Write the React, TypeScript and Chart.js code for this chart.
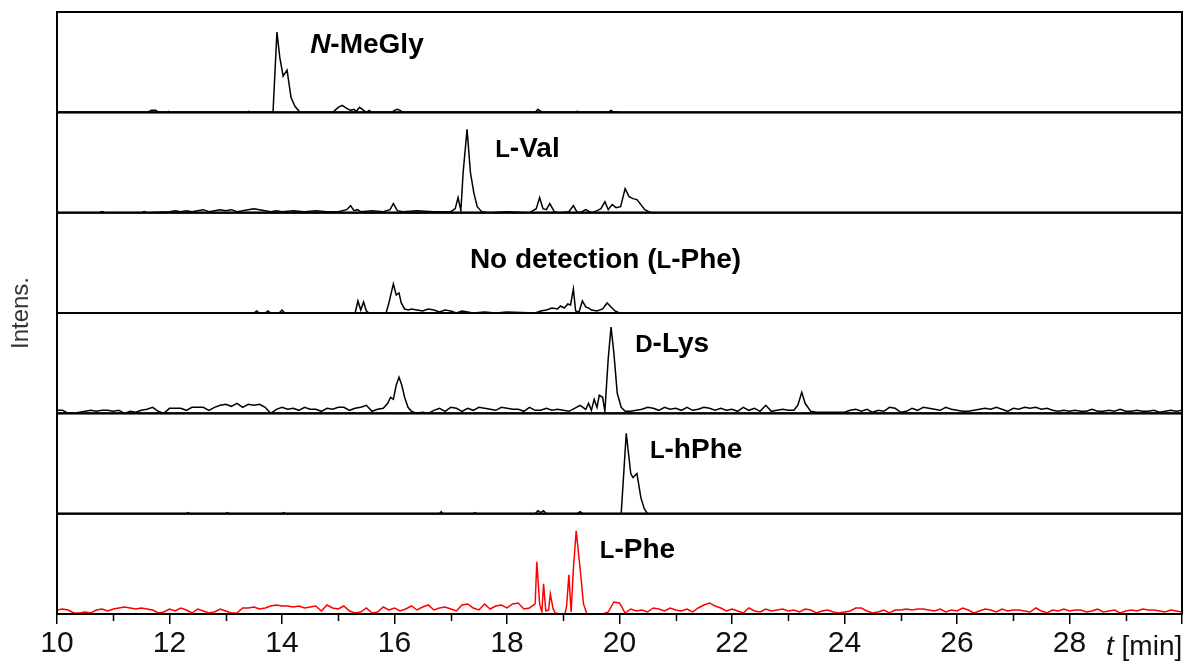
import React, { useEffect, useRef } from 'react';
import { Chart, registerables } from 'chart.js';

Chart.register(...registerables);

// ---------------- DATA ----------------
const X_MIN = 10;
const X_MAX = 30;
const X_LABELED_TICKS = [10, 12, 14, 16, 18, 20, 22, 24, 26, 28];
const NOISE_START = 10;
const NOISE_STEP = 0.1;

// Panel 1: N-MeGly  [time (min), intensity (% of panel)]
const nMeGlyTrace: [number, number][] = [
  [10, 0], [11.6, 0], [11.68, 2], [11.75, 2], [11.82, 0], [11.95, 0], [11.98, 1], [12.01, 0],
  [13.38, 0], [13.41, 1], [13.44, 0],
  [13.84, 0], [13.91, 80], [13.96, 55], [14.02, 36], [14.09, 42], [14.16, 15], [14.23, 6], [14.32, 0],
  [14.9, 0], [15.0, 5], [15.07, 7], [15.15, 4], [15.22, 2], [15.28, 3], [15.32, 1], [15.38, 5],
  [15.45, 2], [15.5, 0], [15.55, 2], [15.6, 0],
  [15.95, 0], [16.0, 2], [16.05, 3], [16.1, 2], [16.15, 0],
  [18.5, 0], [18.55, 3], [18.6, 1], [18.65, 0], [19.2, 0], [19.25, 1], [19.3, 0],
  [19.8, 0], [19.85, 2], [19.9, 0], [20.0, 0],
];

// Panel 2: L-Val
const lValTrace: [number, number][] = [
  [10, 0], [10.75, 0], [10.8, 1], [10.85, 0], [11.5, 0], [11.55, 1], [11.6, 0],
  [12.0, 1], [12.1, 2], [12.2, 1], [12.3, 2], [12.4, 1], [12.5, 2], [12.6, 3], [12.7, 1],
  [12.8, 2], [12.9, 3], [13.0, 2], [13.1, 3], [13.2, 1], [13.3, 2], [13.4, 3], [13.5, 4],
  [13.6, 3], [13.7, 2], [13.8, 1], [13.9, 2], [14.0, 1], [14.2, 2], [14.4, 1], [14.6, 2],
  [14.8, 1], [15.0, 1], [15.15, 3], [15.22, 7], [15.28, 2], [15.34, 3], [15.4, 1], [15.6, 2],
  [15.8, 1], [15.92, 3], [15.98, 9], [16.05, 2], [16.15, 1], [16.4, 2], [16.7, 1], [17.0, 1],
  [17.08, 4], [17.13, 15], [17.18, 2], [17.22, 40], [17.29, 83], [17.35, 40], [17.41, 20],
  [17.47, 6], [17.55, 1], [17.7, 0], [18.0, 1], [18.4, 0], [18.52, 4], [18.58, 15], [18.64, 4],
  [18.7, 3], [18.76, 9], [18.84, 1], [18.92, 0], [19.1, 1], [19.18, 7], [19.24, 1], [19.3, 0],
  [19.4, 3], [19.5, 0], [19.6, 2], [19.67, 4], [19.74, 11], [19.8, 3], [19.87, 8], [19.94, 5],
  [20.02, 6], [20.1, 24], [20.17, 16], [20.24, 14], [20.31, 13], [20.38, 8], [20.45, 3],
  [20.52, 1], [20.58, 0],
];

// Panel 3: No detection (L-Phe)
const noDetTrace: [number, number][] = [
  [10, 0], [13.5, 0], [13.55, 2], [13.6, 0], [13.7, 0], [13.75, 2], [13.8, 0], [13.95, 0],
  [14.0, 3], [14.05, 0], [15.3, 0], [15.35, 12], [15.4, 3], [15.45, 11], [15.5, 2], [15.55, 0],
  [15.85, 0], [15.9, 10], [15.98, 29], [16.03, 18], [16.08, 20], [16.12, 10], [16.18, 4],
  [16.25, 3], [16.3, 4], [16.4, 3], [16.5, 2], [16.6, 4], [16.7, 3], [16.8, 1], [16.9, 3],
  [17.0, 2], [17.1, 0], [17.2, 2], [17.4, 0], [17.6, 1], [17.8, 0], [18.0, 1], [18.5, 0],
  [18.6, 2], [18.7, 3], [18.8, 5], [18.9, 4], [18.95, 7], [19.02, 5], [19.08, 9], [19.13, 8],
  [19.18, 24], [19.22, 2], [19.28, 1], [19.34, 12], [19.4, 6], [19.45, 5], [19.5, 3], [19.6, 2],
  [19.7, 4], [19.78, 10], [19.85, 6], [19.92, 2], [20.0, 0],
];

// Panel 4: D-Lys — baseline noise sampled every 0.1 min from 10.0 to 30.0
const dLysNoise = [
  3, 3, 0, 0, 1, 2, 3, 2, 3, 3,
  2, 3, 0, 2, 1, 3, 4, 6, 2, 0,
  5, 5, 5, 3, 6, 6, 6, 3, 6, 8,
  9, 7, 10, 6, 9, 8, 9, 6, 0, 4,
  6, 4, 5, 3, 6, 4, 4, 2, 5, 4,
  6, 6, 3, 5, 6, 8, 2, 4, 5, 7,
  0, 0, 0, 2, 0, 1, 0, 3, 5, 2,
  6, 5, 2, 5, 3, 6, 5, 4, 3, 6,
  5, 4, 4, 2, 6, 3, 3, 5, 3, 4,
  3, 2, 5, 8, 4, 0, 0, 0, 0, 0,
  0, 0, 2, 3, 4, 6, 5, 3, 6, 4,
  5, 3, 6, 3, 4, 6, 5, 3, 5, 3,
  4, 2, 6, 3, 5, 2, 8, 2, 3, 4,
  3, 4, 0, 0, 0, 1, 1, 1, 1, 1,
  1, 3, 4, 2, 4, 1, 3, 2, 6, 5,
  1, 2, 5, 3, 6, 5, 4, 3, 6, 4,
  3, 2, 2, 3, 4, 5, 4, 6, 4, 2,
  5, 4, 6, 5, 6, 4, 5, 3, 2, 3,
  2, 3, 2, 2, 4, 2, 2, 3, 2, 4,
  2, 2, 3, 2, 2, 3, 1, 2, 3, 2,
  3,
];
const dLysPeaks: [number, number][] = [
  [15.8, 5], [15.88, 10], [15.93, 16], [15.98, 14], [16.03, 28], [16.08, 36], [16.13, 28],
  [16.18, 16], [16.24, 6], [16.3, 2],
  [19.4, 4], [19.45, 10], [19.5, 3], [19.55, 14], [19.6, 6], [19.64, 18], [19.7, 16], [19.74, 2],
  [19.8, 55], [19.85, 86], [19.9, 60], [19.96, 20], [20.03, 6], [20.1, 2],
  [23.1, 3], [23.17, 8], [23.24, 21], [23.3, 10], [23.4, 2],
];
const dLysPeakWindows: [number, number][] = [[15.75, 16.35], [19.35, 20.15], [23.05, 23.45]];

// Panel 5: L-hPhe
const lhPheTrace: [number, number][] = [
  [10, 0], [12.3, 0], [12.33, 1], [12.36, 0], [13.0, 0], [13.03, 1], [13.06, 0],
  [14.0, 0], [14.03, 1], [14.06, 0], [16.8, 0], [16.83, 2], [16.86, 0], [17.4, 0], [17.43, 1],
  [17.46, 0], [18.5, 0], [18.55, 3], [18.6, 1], [18.65, 3], [18.7, 0], [19.25, 0], [19.3, 2],
  [19.35, 0], [20.03, 0], [20.12, 80], [20.2, 40], [20.24, 36], [20.31, 40], [20.38, 16],
  [20.44, 5], [20.5, 0],
];

// Panel 6: L-Phe (red) — baseline noise sampled every 0.1 min from 10.0 to 30.0
const lPheNoise = [
  4, 5, 4, 1, 1, 2, 1, 4, 5, 3,
  5, 6, 7, 6, 5, 6, 5, 4, 1, 2,
  5, 3, 6, 4, 1, 5, 3, 1, 2, 5,
  3, 1, 1, 6, 6, 7, 5, 6, 8, 9,
  8, 8, 7, 8, 6, 7, 8, 3, 9, 6,
  5, 8, 3, 1, 2, 6, 1, 2, 7, 4,
  6, 3, 5, 8, 4, 7, 9, 4, 6, 7,
  5, 3, 9, 10, 6, 4, 10, 5, 8, 9,
  6, 10, 11, 5, 8, 6, 6, 6, 6, 6,
  0, 0, 0, 0, 0, 0, 0, 0, 2, 12,
  11, 1, 5, 3, 4, 2, 6, 5, 3, 6,
  4, 3, 5, 2, 6, 9, 11, 8, 6, 3,
  5, 3, 1, 6, 3, 2, 5, 3, 4, 5,
  3, 4, 2, 5, 4, 1, 3, 4, 2, 1,
  2, 3, 6, 6, 3, 1, 2, 4, 1, 4,
  4, 5, 4, 5, 5, 4, 3, 5, 2, 4,
  3, 6, 4, 1, 3, 5, 4, 2, 5, 3,
  4, 4, 3, 2, 6, 3, 1, 4, 3, 5,
  3, 4, 4, 2, 3, 5, 2, 3, 4, 1,
  3, 4, 3, 5, 4, 4, 3, 2, 4, 3,
  2,
];
const lPhePeaks: [number, number][] = [
  [18.4, 6], [18.45, 8], [18.5, 10], [18.53, 52], [18.58, 10], [18.62, 2], [18.65, 30],
  [18.69, 3], [18.74, 4], [18.77, 20], [18.82, 5], [18.86, 1], [18.95, 0], [19.03, 0],
  [19.06, 8], [19.1, 39], [19.14, 2], [19.18, 45], [19.23, 83], [19.3, 45], [19.36, 10], [19.42, 0],
];
const lPhePeakWindows: [number, number][] = [[18.35, 19.45]];

// Panel labels (rich text segments)
type Seg = { text: string; italic?: boolean; small?: boolean };
const panelLabels: Seg[][] = [
  [{ text: 'N', italic: true }, { text: '-MeGly' }],
  [{ text: 'L', small: true }, { text: '-Val' }],
  [{ text: 'No detection (' }, { text: 'L', small: true }, { text: '-Phe)' }],
  [{ text: 'D', small: true }, { text: '-Lys' }],
  [{ text: 'L', small: true }, { text: '-hPhe' }],
  [{ text: 'L', small: true }, { text: '-Phe' }],
];
const panelColors = ['#000000', '#000000', '#000000', '#000000', '#000000', '#ff0000'];

// label anchor (time, intensity) inside each panel
const labelAnchorT = [14.5, 17.79, 17.34, 20.28, 20.54, 19.65];
const labelAnchorV = [59, 55, 45, 61, 55, 56];

// ---------------- helpers ----------------
function buildTrace(noise: number[], peaks: [number, number][], windows: [number, number][]) {
  const pts: { x: number; y: number }[] = [];
  noise.forEach((v, i) => {
    const t = Math.round((NOISE_START + i * NOISE_STEP) * 100) / 100;
    if (!windows.some(([a, b]) => t > a && t < b)) pts.push({ x: t, y: v });
  });
  peaks.forEach(([t, v]) => pts.push({ x: t, y: v }));
  pts.sort((a, b) => a.x - b.x);
  return pts;
}
const toPts = (arr: [number, number][]) => arr.map(([x, y]) => ({ x, y }));

const FONT = '"Liberation Sans", Arial, sans-serif';

export default function App() {
  const ref = useRef<HTMLCanvasElement | null>(null);

  useEffect(() => {
    if (!ref.current) return;
    const traces = [
      toPts(nMeGlyTrace),
      toPts(lValTrace),
      toPts(noDetTrace),
      buildTrace(dLysNoise, dLysPeaks, dLysPeakWindows),
      toPts(lhPheTrace),
      buildTrace(lPheNoise, lPhePeaks, lPhePeakWindows),
    ];

    const yScales: any = {};
    traces.forEach((_, i) => {
      yScales['p' + i] = {
        type: 'linear',
        position: 'left',
        stack: 'panels',
        stackWeight: 1,
        weight: 10 - i,
        min: 0,
        max: 100,
        display: false,
      };
    });

    const isMajor = (v: number) => v % 2 === 0;

    const decor = {
      id: 'decor',
      beforeDraw(chart: any) {
        const c = chart.ctx;
        c.save();
        c.fillStyle = '#ffffff';
        c.fillRect(0, 0, chart.width, chart.height);
        c.restore();
      },
      afterDraw(chart: any) {
        const c = chart.ctx as CanvasRenderingContext2D;
        const area = chart.chartArea;
        const xs = chart.scales.x;
        c.save();
        // minor ticks (shorter)
        c.strokeStyle = '#000';
        c.lineWidth = 1.5;
        xs.ticks.forEach((tk: any) => {
          if (!isMajor(tk.value)) {
            const px = Math.round(xs.getPixelForValue(tk.value)) + 0.5;
            c.beginPath();
            c.moveTo(px, area.bottom);
            c.lineTo(px, area.bottom + 7);
            c.stroke();
          }
        });
        // panel frames
        c.lineWidth = 2;
        traces.forEach((_, i) => {
          const s = chart.scales['p' + i];
          c.strokeRect(area.left, s.top, area.right - area.left, s.bottom - s.top);
        });
        // panel labels
        c.fillStyle = '#000';
        c.textBaseline = 'alphabetic';
        const size = 28;
        panelLabels.forEach((segs, i) => {
          const s = chart.scales['p' + i];
          let x = xs.getPixelForValue(labelAnchorT[i]);
          const y = s.getPixelForValue(labelAnchorV[i]);
          segs.forEach((seg) => {
            const fs = seg.small ? Math.round(size * 0.86) : size;
            c.font = `${seg.italic ? 'italic ' : ''}bold ${fs}px ${FONT}`;
            c.fillText(seg.text, x, y);
            x += c.measureText(seg.text).width;
          });
        });
        // y title
        c.save();
        c.translate(21, (area.top + area.bottom) / 2);
        c.rotate(-Math.PI / 2);
        c.font = `24px ${FONT}`;
        c.fillStyle = '#333';
        c.textAlign = 'center';
        c.textBaseline = 'middle';
        c.fillText('Intens.', 0, 0);
        c.restore();
        // x title
        c.fillStyle = '#111';
        c.textAlign = 'left';
        c.textBaseline = 'alphabetic';
        let tx = area.right - 76;
        const ty = area.bottom + 41;
        c.font = `italic 28px ${FONT}`;
        c.fillText('t', tx, ty);
        tx += c.measureText('t ').width;
        c.font = `28px ${FONT}`;
        c.fillText('[min]', tx, ty);
        c.restore();
      },
    };

    const chart = new Chart(ref.current, {
      type: 'line',
      data: {
        datasets: traces.map((pts, i) => ({
          data: pts,
          xAxisID: 'x',
          yAxisID: 'p' + i,
          borderColor: panelColors[i],
          borderWidth: 1.5,
          pointRadius: 0,
          fill: false,
          tension: 0,
        })),
      },
      options: {
        responsive: false,
        maintainAspectRatio: false,
        animation: false,
        devicePixelRatio: 1,
        parsing: false as any,
        normalized: true,
        layout: { padding: { left: 57, right: 5, top: 12, bottom: 3 } },
        plugins: { legend: { display: false }, tooltip: { enabled: false }, title: { display: false } },
        scales: {
          x: {
            type: 'linear',
            position: 'bottom',
            min: X_MIN,
            max: X_MAX,
            afterFit: (s: any) => {
              s.height = 48;
            },
            border: { display: false },
            grid: {
              drawOnChartArea: false,
              drawTicks: true,
              tickLength: 10,
              lineWidth: 1.5,
              tickColor: (ctx: any) => (ctx.tick && isMajor(ctx.tick.value) ? '#000' : 'rgba(0,0,0,0)'),
            },
            ticks: {
              stepSize: 1,
              autoSkip: false,
              maxRotation: 0,
              padding: 2,
              color: '#111',
              font: { family: FONT, size: 30 },
              callback: (v: any) => (X_LABELED_TICKS.includes(Number(v)) ? String(v) : ''),
            },
          },
          ...yScales,
        },
      },
      plugins: [decor],
    } as any);

    return () => chart.destroy();
  }, []);

  return (
    <div style={{ position: 'absolute', left: 0, top: 0, width: 1187, height: 665, background: '#fff' }}>
      <canvas ref={ref} width={1187} height={665} style={{ display: 'block' }} />
    </div>
  );
}
